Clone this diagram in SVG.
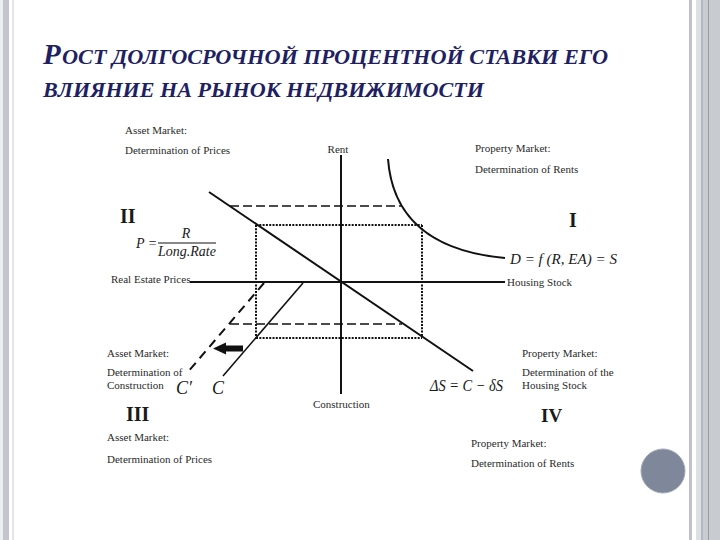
<svg xmlns="http://www.w3.org/2000/svg" width="720" height="540" viewBox="0 0 720 540">
<style>
.lbl{font-family:"Liberation Serif","Times New Roman",serif;font-size:11px;fill:#2a2a2a}
.num{font-family:"Liberation Serif","Times New Roman",serif;font-weight:bold;fill:#1a1a1a}
.eq{font-family:"Liberation Serif","Times New Roman",serif;font-style:italic;fill:#1a1a1a}
.ttl{font-family:"Liberation Serif","Times New Roman",serif;font-style:italic;font-weight:bold;fill:#1f1f63}
.solid{stroke:#111;stroke-width:2;fill:none}
.thin{stroke:#111;stroke-width:1.6;fill:none}
.dash{stroke:#111;stroke-width:1.3;stroke-dasharray:9 4;fill:none}
.dot{stroke:#111;stroke-width:2;stroke-dasharray:2 1.3;fill:none}
.cdash{stroke:#111;stroke-width:2;stroke-dasharray:9 6;fill:none}
</style>
<rect width="720" height="540" fill="#ffffff"/>
<g id="frame">
<rect x="0" y="0" width="3" height="540" fill="#eceef0"/>
<rect x="3" y="0" width="6" height="540" fill="#c2c5cb"/>
<rect x="12" y="0" width="2" height="540" fill="#e3e5e9"/>
<rect x="689" y="0" width="3" height="540" fill="#c0c4ca"/>
<rect x="696" y="0" width="5" height="540" fill="#dcdfe3"/>
<rect x="701" y="0" width="2" height="540" fill="#b4b9bf"/>
<rect x="703" y="0" width="5" height="540" fill="#c9ccd0"/>
<rect x="708" y="0" width="1.5" height="540" fill="#969ca5"/>
<rect x="709.5" y="0" width="10.5" height="540" fill="#c8cbcf"/>
</g>
<g id="title">
<text class="ttl" x="43" y="64" font-size="29">Р</text>
<text class="ttl" x="62" y="64" font-size="21" textLength="546" lengthAdjust="spacingAndGlyphs">ОСТ ДОЛГОСРОЧНОЙ ПРОЦЕНТНОЙ СТАВКИ ЕГО</text>
<text class="ttl" x="43" y="97" font-size="21" textLength="441" lengthAdjust="spacingAndGlyphs">ВЛИЯНИЕ НА РЫНОК НЕДВИЖИМОСТИ</text>
</g>
<g id="connectors">
<line id="axis-v" class="solid" x1="341" y1="155" x2="341" y2="394"/>
<line id="axis-h" class="solid" x1="190" y1="282" x2="505" y2="282"/>
<line id="diagonal" class="solid" x1="209" y1="192" x2="473" y2="371"/>
<path id="demand-curve" class="solid" d="M388,159 C393,225 440,252 505,258"/>
<line id="c-line" class="thin" x1="303" y1="283" x2="223" y2="376"/>
<line id="c-prime" class="cdash" x1="264" y1="283" x2="187" y2="373"/>
<line class="dash" x1="230" y1="206" x2="402" y2="206"/>
<line class="dash" x1="230" y1="324" x2="402" y2="324"/>
<line class="dot" x1="256" y1="225" x2="422" y2="225"/>
<line class="dot" x1="256" y1="225" x2="256" y2="338"/>
<line class="dot" x1="256" y1="338" x2="422" y2="338"/>
<line class="dot" x1="422" y1="225" x2="422" y2="337"/>
<path id="shift-arrow" d="M213,348.5 L226,342.5 L226,345.5 L243,345.5 L243,351.5 L226,351.5 L226,354.5 Z" fill="#111"/>
</g>
<g id="quadrant-II">
<text class="lbl" x="125" y="134">Asset Market:</text>
<text class="lbl" x="125" y="154">Determination of Prices</text>
<text class="num" x="120" y="223" font-size="20">II</text>
<text class="eq" x="136" y="248" font-size="14">P =</text>
<text class="eq" x="186" y="238" font-size="14" text-anchor="middle">R</text>
<line x1="158" y1="243" x2="216" y2="243" stroke="#111" stroke-width="1"/>
<text class="eq" x="187" y="256" font-size="14" text-anchor="middle">Long.Rate</text>
<text class="lbl" x="111" y="283">Real Estate Prices</text>
</g>
<g id="quadrant-I">
<text class="lbl" x="338" y="153" text-anchor="middle">Rent</text>
<text class="lbl" x="475" y="152">Property Market:</text>
<text class="lbl" x="475" y="173">Determination of Rents</text>
<text class="num" x="569" y="227" font-size="20">I</text>
<text class="eq" x="510" y="264" font-size="15" textLength="107" lengthAdjust="spacingAndGlyphs">D = f (R, EA) = S</text>
<text class="lbl" x="507" y="286">Housing Stock</text>
</g>
<g id="quadrant-III">
<text class="lbl" x="107" y="357">Asset Market:</text>
<text class="lbl" x="107" y="376">Determination of</text>
<text class="lbl" x="107" y="389">Construction</text>
<text class="eq" x="176" y="394" font-size="18">C′</text>
<text class="eq" x="212" y="394" font-size="18">C</text>
<text class="num" x="126" y="421" font-size="20">III</text>
<text class="lbl" x="107" y="441">Asset Market:</text>
<text class="lbl" x="107" y="463">Determination of Prices</text>
</g>
<g id="quadrant-IV">
<text class="lbl" x="313" y="408">Construction</text>
<text class="eq" x="430" y="391" font-size="16" textLength="73" lengthAdjust="spacingAndGlyphs">ΔS = C − δS</text>
<text class="lbl" x="522" y="357">Property Market:</text>
<text class="lbl" x="522" y="376">Determination of the</text>
<text class="lbl" x="522" y="389">Housing Stock</text>
<text class="num" x="541" y="422" font-size="19">IV</text>
<text class="lbl" x="471" y="447">Property Market:</text>
<text class="lbl" x="471" y="467">Determination of Rents</text>
</g>
<g id="nav-dot">
<circle cx="663" cy="471" r="22" fill="#7e889a" stroke="#a3aab6" stroke-width="1"/>
</g>
</svg>
